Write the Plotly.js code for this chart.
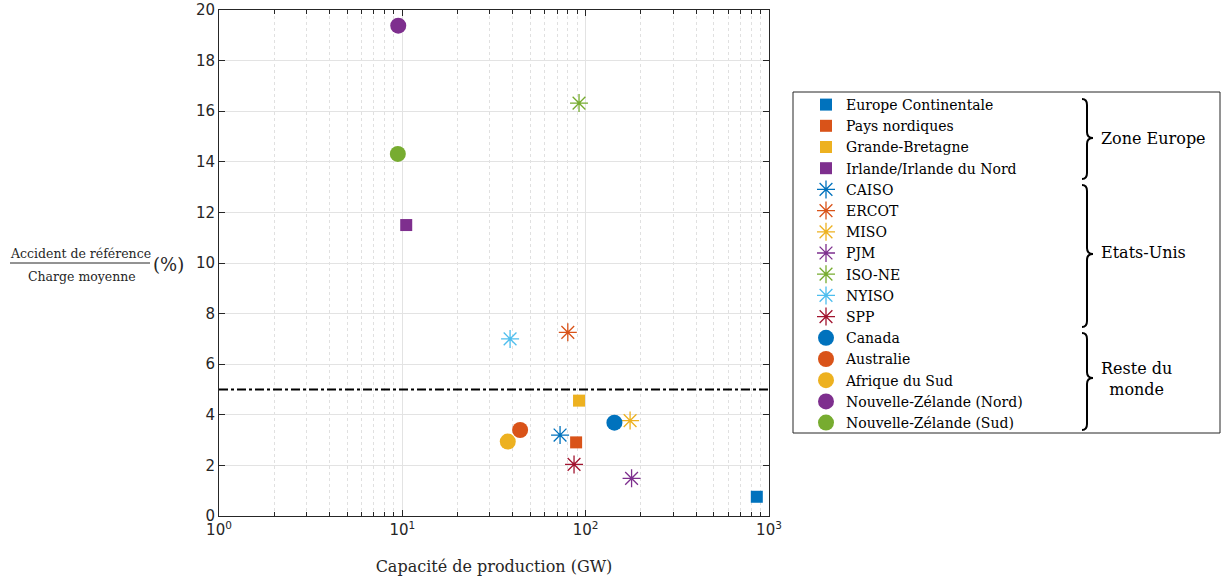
<!DOCTYPE html>
<html>
<head>
<meta charset="utf-8">
<script src="https://cdn.plot.ly/plotly-3.0.1.min.js"></script>
<style>html,body{margin:0;padding:0;background:#fff;}#chart{width:1225px;height:581px;}</style>
</head>
<body>
<div id="chart"></div>
<script>
// ---- Data ----
const europeNames = ['Europe Continentale', 'Pays nordiques', 'Grande-Bretagne', 'Irlande/Irlande du Nord'];
const europeCap = [858, 88.7, 92, 10.5];
const europeRatio = [0.76, 2.91, 4.56, 11.50];

const usNames = ['CAISO', 'ERCOT', 'MISO', 'PJM', 'ISO-NE', 'NYISO', 'SPP'];
const usCap = [72.5, 79.9, 174.7, 178, 92, 38.7, 86.4];
const usRatio = [3.20, 7.26, 3.77, 1.49, 16.32, 7.0, 2.04];

const restNames = ['Canada', 'Australie', 'Afrique du Sud', 'Nouvelle-Zélande (Nord)', 'Nouvelle-Zélande (Sud)'];
const restCap = [143.5, 43.9, 37.6, 9.5, 9.45];
const restRatio = [3.69, 3.40, 2.94, 19.38, 14.31];

const threshold = 5;

const groupLabels = ['Zone Europe', 'Etats-Unis', 'Reste du<br>monde'];
const xTickVals = [1, 10, 100, 1000];
const xTickText = ['10<sup>0</sup>', '10<sup>1</sup>', '10<sup>2</sup>', '10<sup>3</sup>'];
const yTickVals = [0, 2, 4, 6, 8, 10, 12, 14, 16, 18, 20];

// ---- Styles ----
const palette = ['#0072BD', '#D95319', '#EDB120', '#7E2F8E', '#77AC30', '#4DBEEE', '#A2142F'];
const serif = 'DejaVu Serif, Liberation Serif, serif';
const sans = 'DejaVu Sans, Liberation Sans, sans-serif';

const traces = [];
europeNames.forEach((n, i) => traces.push({
  type: 'scatter', mode: 'markers', name: n, x: [europeCap[i]], y: [europeRatio[i]],
  marker: {symbol: 'square', size: 12, color: palette[i], line: {width: 0}}
}));
usNames.forEach((n, i) => traces.push({
  type: 'scatter', mode: 'markers', name: n, x: [usCap[i]], y: [usRatio[i]],
  marker: {symbol: 'asterisk-open', size: 15, color: palette[i], line: {width: 1.3, color: palette[i]}}
}));
restNames.forEach((n, i) => traces.push({
  type: 'scatter', mode: 'markers', name: n, x: [restCap[i]], y: [restRatio[i]],
  marker: {symbol: 'circle', size: 16, color: palette[i], line: {width: 0}}
}));

// geometry helpers (page pixels -> paper)
const L = 219, R = 769, T = 10, B = 516;
const W = 1225, H = 581;
const px = x => (x - L) / (R - L);
const py = y => (B - y) / (B - T);

function brace(x, y1, ym, y2) {
  const c = 5, t = 6, r = 6;
  const pts = [
    ['M', x - c, y1], ['Q', x, y1, x, y1 + r], ['L', x, ym - r], ['Q', x, ym, x + t, ym],
    ['Q', x, ym, x, ym + r], ['L', x, y2 - r], ['Q', x, y2, x - c, y2]
  ];
  return pts.map(p => {
    const coords = [];
    for (let k = 1; k < p.length; k += 2) coords.push(px(p[k]).toFixed(5) + ',' + py(p[k + 1]).toFixed(5));
    return p[0] + ' ' + coords.join(' ');
  }).join(' ');
}

const minorVals = [];
[1, 10, 100].forEach(d => { for (let m = 2; m <= 9; m++) minorVals.push(d * m); });

const shapes = [
  {type: 'line', xref: 'paper', yref: 'y', x0: 0, x1: 1, y0: threshold, y1: threshold,
   line: {color: '#000', width: 2, dash: 'dashdot'}},
  {type: 'rect', xref: 'paper', yref: 'paper', x0: px(793), x1: px(1220), y0: py(433), y1: py(92),
   line: {color: '#262626', width: 1}},
  {type: 'path', xref: 'paper', yref: 'paper', path: brace(1087, 99, 138, 179), line: {color: '#000', width: 2}},
  {type: 'path', xref: 'paper', yref: 'paper', path: brace(1087, 185, 254, 327), line: {color: '#000', width: 2}},
  {type: 'path', xref: 'paper', yref: 'paper', path: brace(1087, 333, 378, 430), line: {color: '#000', width: 2}},
  // fraction bar
  {type: 'line', xref: 'paper', yref: 'paper', x0: px(10), x1: px(150), y0: py(263), y1: py(263),
   line: {color: '#262626', width: 1}}
];

const annotations = [
  {xref: 'paper', yref: 'paper', x: px(1099), y: py(138), xanchor: 'left', yanchor: 'middle',
   text: groupLabels[0], showarrow: false, font: {family: serif, size: 16, color: '#000'}},
  {xref: 'paper', yref: 'paper', x: px(1099), y: py(252), xanchor: 'left', yanchor: 'middle',
   text: groupLabels[1], showarrow: false, font: {family: serif, size: 16, color: '#000'}},
  {xref: 'paper', yref: 'paper', x: px(1099), y: py(379), xanchor: 'left', yanchor: 'middle', align: 'center',
   text: groupLabels[2], showarrow: false, font: {family: serif, size: 16, color: '#000'}},
  {xref: 'paper', yref: 'paper', x: px(80), y: py(253), xanchor: 'center', yanchor: 'middle',
   text: 'Accident de référence', showarrow: false, font: {family: serif, size: 12.5, color: '#262626'}},
  {xref: 'paper', yref: 'paper', x: px(82), y: py(276), xanchor: 'center', yanchor: 'middle',
   text: 'Charge moyenne', showarrow: false, font: {family: serif, size: 12.5, color: '#262626'}},
  {xref: 'paper', yref: 'paper', x: px(151), y: py(264), xanchor: 'left', yanchor: 'middle',
   text: '(%)', showarrow: false, font: {family: serif, size: 18, color: '#262626'}}
];

const layout = {
  width: W, height: H,
  margin: {l: L, r: W - R, t: T, b: H - B},
  paper_bgcolor: '#fff', plot_bgcolor: '#fff',
  showlegend: true,
  legend: {x: px(806), y: py(89), xanchor: 'left', yanchor: 'top', bgcolor: 'rgba(0,0,0,0)',
           borderwidth: 0, font: {family: serif, size: 14, color: '#000'}, tracegroupgap: 0},
  xaxis: {
    type: 'log', range: [0, 3], tickvals: xTickVals, ticktext: xTickText,
    ticks: 'inside', ticklen: 6, tickcolor: '#262626', mirror: 'allticks',
    showline: true, linecolor: '#262626', linewidth: 1,
    showgrid: true, gridcolor: '#e3e3e3', gridwidth: 1, zeroline: false,
    tickfont: {family: sans, size: 15, color: '#262626'},
    minor: {tickvals: minorVals, ticks: 'inside', ticklen: 4, tickcolor: '#262626',
            showgrid: true, gridcolor: '#e0e0e0', griddash: 'dot', gridwidth: 1},
    title: {text: 'Capacité de production (GW)', font: {family: serif, size: 16, color: '#262626'}, standoff: 22}
  },
  yaxis: {
    range: [0, 20], tickvals: yTickVals, ticks: 'inside', ticklen: 6, tickcolor: '#262626',
    mirror: 'allticks', showline: true, linecolor: '#262626', linewidth: 1,
    showgrid: true, gridcolor: '#e3e3e3', gridwidth: 1, zeroline: false,
    tickfont: {family: sans, size: 15, color: '#262626'}
  },
  shapes: shapes,
  annotations: annotations
};

Plotly.newPlot('chart', traces, layout, {displayModeBar: false, responsive: false});
</script>
</body>
</html>
